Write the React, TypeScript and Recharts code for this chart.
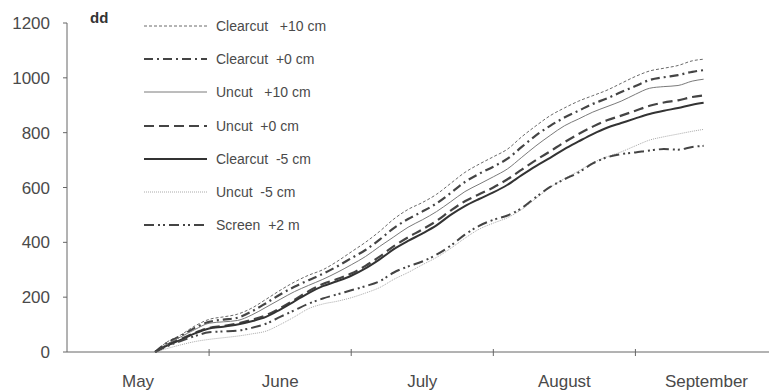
import { CartesianGrid, Legend, Line, LineChart, XAxis, YAxis } from "recharts";

// months since 1 May
const TIME = [
	0.62, 0.7, 0.8, 0.9, 1.0, 1.1, 1.2, 1.3, 1.4, 1.5, 1.6, 1.7, 1.8, 1.9, 2.0, 2.1, 2.2, 2.3, 2.4, 2.5,
	2.6, 2.7, 2.8, 2.9, 3.0, 3.1, 3.2, 3.3, 3.4, 3.5, 3.6, 3.7, 3.8, 3.9, 4.0, 4.1, 4.2, 4.3, 4.4, 4.48,
];

const CLEARCUT_P10 = [
	0, 35, 62, 95, 119, 128, 138, 160, 192, 225, 255, 280, 300, 330, 365, 400, 440, 485, 520, 545,
	575, 615, 655, 685, 712, 740, 785, 825, 862, 890, 915, 935, 955, 980, 1005, 1025, 1035, 1045, 1062, 1068,
];
const CLEARCUT_P0 = [
	0, 32, 58, 88, 110, 118, 125, 148, 178, 210, 238, 262, 285, 312, 342, 372, 410, 452, 485, 512,
	542, 580, 620, 650, 676, 705, 748, 790, 825, 855, 880, 905, 925, 948, 970, 992, 1002, 1010, 1022, 1028,
];
const UNCUT_P10 = [
	0, 28, 55, 82, 105, 110, 115, 135, 163, 192, 220, 243, 265, 290, 318, 348, 385, 420, 455, 482,
	512, 548, 585, 612, 639, 668, 710, 752, 790, 825, 850, 875, 895, 915, 940, 962, 968, 972, 988, 995,
];
const UNCUT_P0 = [
	0, 24, 47, 70, 88, 95, 104, 117, 134, 160, 190, 222, 248, 266, 286, 314, 348, 386, 418, 447,
	478, 516, 550, 575, 600, 630, 665, 700, 732, 765, 795, 822, 845, 862, 880, 898, 910, 918, 930, 936,
];
const CLEARCUT_M5 = [
	0, 22, 44, 68, 86, 92, 100, 112, 128, 155, 185, 215, 240, 258, 278, 305, 338, 375, 405, 432,
	462, 500, 532, 558, 582, 610, 645, 678, 708, 740, 768, 795, 818, 835, 852, 868, 880, 890, 902, 909,
];
const UNCUT_M5 = [
	0, 12, 26, 38, 46, 52, 58, 66, 76, 100, 128, 158, 175, 185, 198, 215, 235, 265, 290, 318,
	345, 378, 415, 448, 470, 490, 520, 560, 600, 632, 660, 690, 712, 730, 752, 773, 785, 795, 805, 812,
];
const SCREEN_2M = [
	0, 20, 40, 58, 72, 75, 78, 88, 103, 128, 152, 176, 195, 210, 225, 240, 258, 290, 312, 330,
	355, 388, 428, 460, 482, 498, 525, 565, 602, 630, 655, 688, 710, 722, 728, 735, 740, 738, 748, 752,
];

const MONTHS = ["May", "June", "July", "August", "September"];
const MONTH_LABEL_AT = [0.5, 1.5, 2.5, 3.5, 4.5];
const MONTH_BOUNDS = [1, 2, 3, 4];
const Y_TICKS = [0, 200, 400, 600, 800, 1000, 1200];

const SERIES = [
	{ key: "cc10", name: "Clearcut   +10 cm", values: CLEARCUT_P10, color: "#6a6a6a", width: 1, dash: "3 2" },
	{ key: "cc0", name: "Clearcut  +0 cm", values: CLEARCUT_P0, color: "#444", width: 2.2, dash: "9 4 2 4" },
	{ key: "uc10", name: "Uncut   +10 cm", values: UNCUT_P10, color: "#7a7a7a", width: 1, dash: undefined },
	{ key: "uc0", name: "Uncut  +0 cm", values: UNCUT_P0, color: "#444", width: 2.2, dash: "10 5" },
	{ key: "ccm5", name: "Clearcut  -5 cm", values: CLEARCUT_M5, color: "#333", width: 2, dash: undefined },
	{ key: "ucm5", name: "Uncut  -5 cm", values: UNCUT_M5, color: "#aaa", width: 1, dash: "1 1" },
	{ key: "scr", name: "Screen  +2 m", values: SCREEN_2M, color: "#444", width: 2, dash: "10 4 2 3 2 4" },
];

const data = TIME.map((m, i) => {
	const row: Record<string, number> = { m };
	for (const s of SERIES) row[s.key] = s.values[i];
	return row;
});

const FONT = "'Liberation Sans', Arial, sans-serif";
const INK = "#4a4a4a";

function MonthTick(props: any) {
	const { x, y, payload } = props;
	const v = payload.value as number;
	const idx = MONTH_LABEL_AT.indexOf(v);
	if (MONTH_BOUNDS.includes(v)) {
		return <line x1={x} x2={x} y1={y - 3} y2={y + 4} stroke="#666" strokeWidth={1} />;
	}
	if (idx === -1) return null;
	return (
		<text x={x} y={y + 35} textAnchor="middle" fill={INK} fontSize={17} fontFamily={FONT}>
			{MONTHS[idx]}
		</text>
	);
}

function LegendBox() {
	return (
		<div style={{ fontFamily: FONT, fontSize: 14, color: INK }}>
			{SERIES.map((s) => (
				<div key={s.key} style={{ height: 33.3, display: "flex", alignItems: "center" }}>
					<svg width={63} height={6} style={{ display: "block" }}>
						<line
							x1={0}
							x2={63}
							y1={3}
							y2={3}
							stroke={s.color}
							strokeWidth={s.width}
							strokeDasharray={s.dash}
						/>
					</svg>
					<span style={{ marginLeft: 9, whiteSpace: "pre" }}>{s.name}</span>
				</div>
			))}
		</div>
	);
}

export default function App() {
	return (
		<div style={{ position: "relative", width: 769, height: 391, background: "#fff" }}>
			<style>{"body{margin:0}"}</style>
			<LineChart width={769} height={391} data={data} margin={{ top: 23, right: 0, bottom: 0, left: 0 }}>
				<CartesianGrid stroke="none" />
				<XAxis
					dataKey="m"
					type="number"
					domain={[0, 4.94]}
					ticks={[0.5, 1, 1.5, 2, 2.5, 3, 3.5, 4, 4.5]}
					interval={0}
					tickLine={false}
					tickSize={0}
					tickMargin={0}
					height={39}
					axisLine={{ stroke: "#666" }}
					tick={<MonthTick />}
					allowDataOverflow
				/>
				<YAxis
					type="number"
					domain={[0, 1200]}
					ticks={Y_TICKS}
					interval={0}
					width={67}
					tickSize={4}
					tickMargin={13}
					axisLine={{ stroke: "#666" }}
					tickLine={{ stroke: "#666" }}
					tick={{ fill: INK, fontSize: 17, fontFamily: FONT }}
				/>
				<Legend
					layout="vertical"
					align="center"
					verticalAlign="middle"
					content={() => <LegendBox />}
					wrapperStyle={{ left: 144, top: 9, width: 200, height: 240 }}
				/>
				{SERIES.map((s) => (
					<Line
						key={s.key}
						dataKey={s.key}
						name={s.name}
						type="monotone"
						stroke={s.color}
						strokeWidth={s.width}
						strokeDasharray={s.dash}
						dot={false}
						activeDot={false}
						isAnimationActive={false}
					/>
				))}
			</LineChart>
			<div
				style={{
					position: "absolute",
					left: 90,
					top: 9,
					fontFamily: FONT,
					fontWeight: "bold",
					fontSize: 15,
					color: "#333",
				}}
			>
				dd
			</div>
		</div>
	);
}
